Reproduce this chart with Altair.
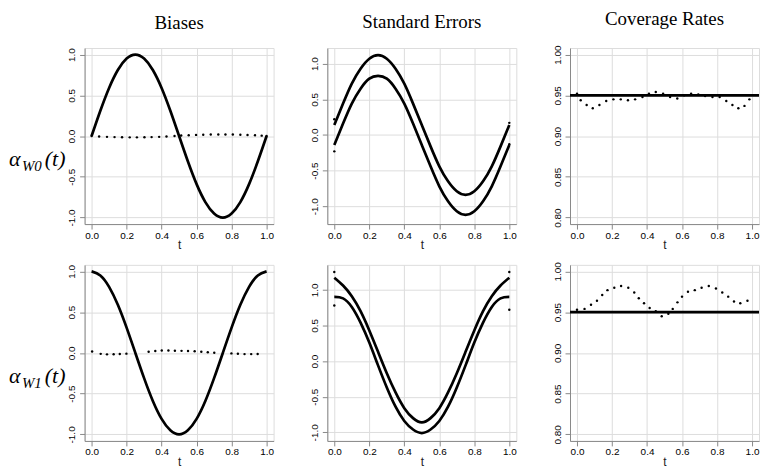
import altair as alt
import pandas as pd

# ---------------- data ----------------
t_curve = [0.0, 0.05, 0.1, 0.15, 0.2, 0.25, 0.3, 0.35, 0.4, 0.45, 0.5,
           0.55, 0.6, 0.65, 0.7, 0.75, 0.8, 0.85, 0.9, 0.95, 1.0]

alpha_w0_true = [0.0, 0.31, 0.59, 0.81, 0.95, 1.0, 0.95, 0.81, 0.59, 0.31, 0.0,
                 -0.31, -0.59, -0.81, -0.95, -1.0, -0.95, -0.81, -0.59, -0.31, 0.0]
alpha_w1_true = [1.0, 0.95, 0.81, 0.59, 0.31, 0.0, -0.31, -0.59, -0.81, -0.95, -1.0,
                 -0.95, -0.81, -0.59, -0.31, 0.0, 0.31, 0.59, 0.81, 0.95, 1.0]

bias_w0_t = [0.0, 0.043, 0.088, 0.131, 0.174, 0.218, 0.259, 0.302, 0.343, 0.386, 0.428,
             0.474, 0.512, 0.555, 0.597, 0.638, 0.681, 0.724, 0.765, 0.807, 0.85, 0.891,
             0.934, 0.972, 1.0]
bias_w0 = [0.0, -0.006, -0.01, -0.013, -0.015, -0.016, -0.016, -0.015, -0.013, -0.01, -0.005,
           0.001, 0.006, 0.01, 0.014, 0.016, 0.018, 0.019, 0.019, 0.018, 0.016, 0.013,
           0.009, 0.005, 0.0]

bias_w1_t = [0.003, 0.052, 0.088, 0.126, 0.161, 0.199, 0.326, 0.364, 0.401, 0.439, 0.476,
             0.514, 0.551, 0.589, 0.627, 0.664, 0.701, 0.799, 0.836, 0.874, 0.912, 0.949]
bias_w1 = [0.016, -0.012, -0.018, -0.016, -0.013, -0.009, 0.014, 0.024, 0.03, 0.03, 0.027,
           0.025, 0.024, 0.02, 0.014, 0.007, 0.002, -0.006, -0.011, -0.015, -0.015, -0.013]

se_w0_upper = [0.14, 0.44, 0.72, 0.93, 1.07, 1.12, 1.07, 0.93, 0.72, 0.44, 0.14,
               -0.16, -0.44, -0.65, -0.79, -0.84, -0.79, -0.65, -0.44, -0.16, 0.14]
se_w0_lower = [-0.14, 0.16, 0.44, 0.65, 0.79, 0.83, 0.79, 0.65, 0.44, 0.16, -0.14,
               -0.44, -0.72, -0.93, -1.07, -1.12, -1.07, -0.93, -0.72, -0.44, -0.14]
se_w0_pts_t = [0.0, 0.0, 1.0, 1.0]
se_w0_pts = [0.22, -0.23, 0.17, -0.13]

se_w1_upper = [1.17, 1.06, 0.91, 0.70, 0.43, 0.13, -0.17, -0.44, -0.66, -0.80, -0.86,
               -0.80, -0.66, -0.44, -0.17, 0.13, 0.43, 0.70, 0.91, 1.06, 1.17]
se_w1_lower = [0.90, 0.88, 0.76, 0.54, 0.26, -0.06, -0.37, -0.64, -0.84, -0.96, -1.01,
               -0.96, -0.84, -0.64, -0.37, -0.06, 0.26, 0.54, 0.76, 0.88, 0.90]
se_w1_pts_t = [0.0, 0.0, 1.0, 1.0]
se_w1_pts = [1.25, 0.78, 1.25, 0.72]

cov_w0_t = [0.0, 0.021, 0.055, 0.09, 0.128, 0.167, 0.208, 0.25, 0.291, 0.332, 0.374, 0.411,
            0.45, 0.492, 0.532, 0.573, 0.612, 0.652, 0.693, 0.732, 0.774, 0.815, 0.853,
            0.888, 0.922, 0.957, 0.985]
cov_w0 = [0.952, 0.944, 0.938, 0.934, 0.938, 0.943, 0.945, 0.945, 0.944, 0.945, 0.948, 0.952,
          0.954, 0.952, 0.948, 0.946, 0.950, 0.952, 0.951, 0.949, 0.948, 0.948, 0.943,
          0.938, 0.934, 0.937, 0.945]

cov_w1_t = [0.0, 0.043, 0.08, 0.114, 0.144, 0.174, 0.213, 0.252, 0.293, 0.327, 0.353, 0.383,
            0.415, 0.45, 0.484, 0.522, 0.547, 0.574, 0.6, 0.634, 0.673, 0.712, 0.753, 0.794,
            0.83, 0.864, 0.897, 0.933, 0.974]
cov_w1 = [0.953, 0.954, 0.959, 0.964, 0.971, 0.977, 0.980, 0.982, 0.980, 0.974, 0.967, 0.961,
          0.955, 0.951, 0.945, 0.948, 0.954, 0.962, 0.969, 0.975, 0.977, 0.980, 0.982, 0.979,
          0.974, 0.969, 0.963, 0.961, 0.964]
nominal_level = [0.95]

column_titles = ["Biases", "Standard Errors", "Coverage Rates"]
row_labels = [("α", "W0", "(t)"), ("α", "W1", "(t)")]

x_ticks = [0.0, 0.2, 0.4, 0.6, 0.8, 1.0]
func_ticks = [-1.0, -0.5, 0.0, 0.5, 1.0]
cov_ticks = [0.80, 0.85, 0.90, 0.95, 1.00]

# ---------------- helpers ----------------
W, H = 190, 177
MINUS = "replace(datum.label, '\u2212', '-')"


def df(t, v):
    return pd.DataFrame({"t": t, "v": v})


def enc(ydom, yticks, yfmt):
    x = alt.X("t:Q", scale=alt.Scale(domain=[-0.04, 1.04], nice=False, zero=False),
              axis=alt.Axis(values=x_ticks, format=".1f", title="t", labelPadding=1,
                            titlePadding=0, labelExpr=MINUS, titleFontWeight="normal",
                            titleFont="Liberation Sans", titleFontSize=12,
                            titleColor="#222222"))
    y = alt.Y("v:Q", scale=alt.Scale(domain=ydom, nice=False, zero=False),
              axis=alt.Axis(values=yticks, format=yfmt, title=None, labelAngle=270,
                            labelAlign="center", labelBaseline="bottom", labelPadding=3,
                            labelExpr=MINUS))
    return x, y


def line(data, ydom, yticks, yfmt):
    x, y = enc(ydom, yticks, yfmt)
    return alt.Chart(data).mark_line(color="black", strokeWidth=2.7,
                                     interpolate="natural").encode(x=x, y=y)


def dots(data, ydom, yticks, yfmt):
    x, y = enc(ydom, yticks, yfmt)
    return alt.Chart(data).mark_circle(color="black", size=6, opacity=1).encode(x=x, y=y)


def hrule(vals, ydom, yticks, yfmt):
    _, y = enc(ydom, yticks, yfmt)
    return alt.Chart(pd.DataFrame({"v": vals})).mark_rule(color="black",
                                                          strokeWidth=2.8).encode(y=y)


def label_layers(lab):
    a, sub, tail = lab
    base_y = 119
    out = []
    out.append(alt.Chart(pd.DataFrame({"s": [a]})).mark_text(
        font="Liberation Serif", fontStyle="italic", fontSize=22, align="left",
        baseline="alphabetic", color="black").encode(
        text="s:N", x=alt.value(-76), y=alt.value(base_y)))
    out.append(alt.Chart(pd.DataFrame({"s": [sub]})).mark_text(
        font="Liberation Serif", fontStyle="italic", fontSize=15, align="left",
        baseline="alphabetic", color="black").encode(
        text="s:N", x=alt.value(-63), y=alt.value(base_y + 5)))
    out.append(alt.Chart(pd.DataFrame({"s": [tail]})).mark_text(
        font="Liberation Serif", fontStyle="italic", fontSize=22, align="left",
        baseline="alphabetic", color="black").encode(
        text="s:N", x=alt.value(-40), y=alt.value(base_y)))
    return out


def titled(ch, i):
    offs = [15, 16, 16]
    return ch.properties(title=alt.TitleParams(
        column_titles[i], font="Liberation Serif", fontSize=19, fontWeight="normal",
        color="black", offset=offs[i], anchor="middle"))


func_dom_bias = [-1.08, 1.08]
se0_dom = [-1.25, 1.22]
se1_dom = [-1.12, 1.35]
cov_dom = [0.792, 1.008]

# row 1
p11 = alt.layer(
    line(df(t_curve, alpha_w0_true), func_dom_bias, func_ticks, ".1f"),
    dots(df(bias_w0_t, bias_w0), func_dom_bias, func_ticks, ".1f"),
    *label_layers(row_labels[0]),
).properties(width=W, height=H)
p12 = alt.layer(
    line(df(t_curve, se_w0_upper), se0_dom, func_ticks, ".1f"),
    line(df(t_curve, se_w0_lower), se0_dom, func_ticks, ".1f"),
    dots(df(se_w0_pts_t, se_w0_pts), se0_dom, func_ticks, ".1f"),
).properties(width=W, height=H)
p13 = alt.layer(
    hrule(nominal_level, cov_dom, cov_ticks, ".2f"),
    dots(df(cov_w0_t, cov_w0), cov_dom, cov_ticks, ".2f"),
).properties(width=W, height=H)

# row 2
p21 = alt.layer(
    line(df(t_curve, alpha_w1_true), func_dom_bias, func_ticks, ".1f"),
    dots(df(bias_w1_t, bias_w1), func_dom_bias, func_ticks, ".1f"),
    *label_layers(row_labels[1]),
).properties(width=W, height=H)
p22 = alt.layer(
    line(df(t_curve, se_w1_upper), se1_dom, func_ticks, ".1f"),
    line(df(t_curve, se_w1_lower), se1_dom, func_ticks, ".1f"),
    dots(df(se_w1_pts_t, se_w1_pts), se1_dom, func_ticks, ".1f"),
).properties(width=W, height=H)
p23 = alt.layer(
    hrule(nominal_level, cov_dom, cov_ticks, ".2f"),
    dots(df(cov_w1_t, cov_w1), cov_dom, cov_ticks, ".2f"),
).properties(width=W, height=H)

row1 = alt.hconcat(titled(p11, 0), titled(p12, 1), titled(p13, 2), spacing=34)
row2 = alt.hconcat(p21, p22, p23, spacing=34)

chart = alt.vconcat(row1, row2, spacing=9).properties(padding=0).configure_view(
    stroke="#8a8a8a", strokeWidth=1
).configure_axis(
    domain=False, grid=False, tickSize=4, tickColor="#777777", tickWidth=1,
    labelFont="Liberation Sans", labelFontSize=10.5, labelColor="#333333",
    titleFont="Liberation Sans", titleFontSize=12, titleFontWeight="normal",
    titleColor="#222222"
).configure(background="white")

chart.save("out.html", embed_options={"renderer": "svg", "actions": False})
